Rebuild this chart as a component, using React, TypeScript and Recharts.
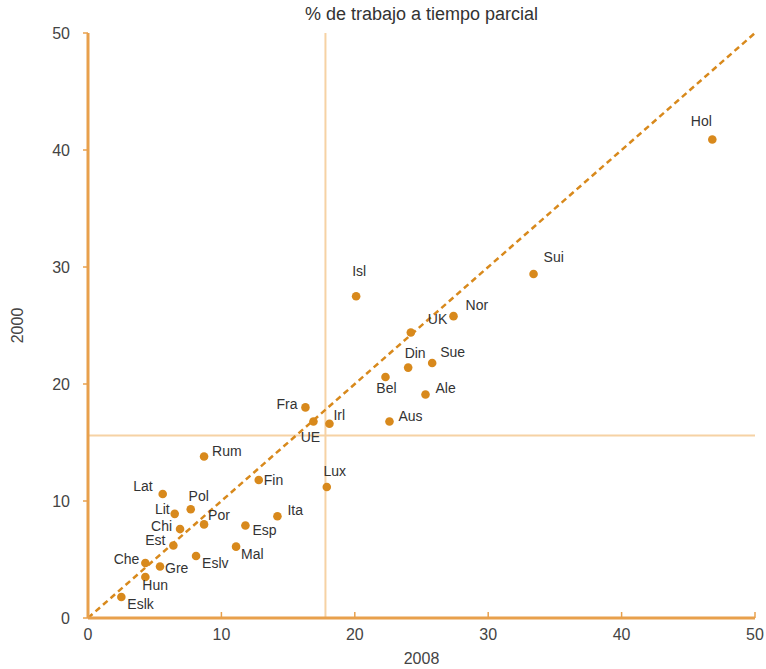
import { ScatterChart, Scatter, XAxis, YAxis, ReferenceLine, Label } from 'recharts'

// country codes, part-time work share (%) in 2008 (x) and 2000 (y)
const countries = ['Hol', 'Sui', 'Isl', 'Nor', 'UK', 'Din', 'Sue', 'Bel', 'Ale', 'Fra', 'UE', 'Irl', 'Aus', 'Rum', 'Fin', 'Lux', 'Lat', 'Pol', 'Lit', 'Por', 'Ita', 'Esp', 'Chi', 'Est', 'Mal', 'Eslv', 'Che', 'Gre', 'Hun', 'Eslk']
const share2008 = [46.8, 33.4, 20.1, 27.4, 24.2, 24.0, 25.8, 22.3, 25.3, 16.3, 16.9, 18.1, 22.6, 8.7, 12.8, 17.9, 5.6, 7.7, 6.5, 8.7, 14.2, 11.8, 6.9, 6.4, 11.1, 8.1, 4.3, 5.4, 4.3, 2.5]
const share2000 = [40.9, 29.4, 27.5, 25.8, 24.4, 21.4, 21.8, 20.6, 19.1, 18.0, 16.8, 16.6, 16.8, 13.8, 11.8, 11.2, 10.6, 9.3, 8.9, 8.0, 8.7, 7.9, 7.6, 6.2, 6.1, 5.3, 4.7, 4.4, 3.5, 1.8]
const ticks = [0, 10, 20, 30, 40, 50]
const euAverage2008 = 17.8
const euAverage2000 = 15.6

const data = countries.map((name, i) => ({ name, x: share2008[i], y: share2000[i] }))

// label offset from the dot: dx, dy, text anchor
const labelPlace: Record<string, [number, number, string]> = {
  Hol: [-11, -18, 'middle'],
  Sui: [10, -17, 'start'],
  Isl: [3, -25, 'middle'],
  Nor: [12, -11, 'start'],
  UK: [17, -14, 'start'],
  Din: [7, -15, 'middle'],
  Sue: [8, -11, 'start'],
  Bel: [1, 11, 'middle'],
  Ale: [10, -7, 'start'],
  Fra: [-8, -3, 'end'],
  UE: [-3, 16, 'middle'],
  Irl: [4, -9, 'start'],
  Aus: [9, -5, 'start'],
  Rum: [8, -6, 'start'],
  Fin: [5, 0, 'start'],
  Lux: [8, -16, 'middle'],
  Lat: [-10, -8, 'end'],
  Pol: [8, -13, 'middle'],
  Lit: [-5, -5, 'end'],
  Por: [4, -9, 'start'],
  Ita: [10, -6, 'start'],
  Esp: [7, 4, 'start'],
  Chi: [-8, -3, 'end'],
  Est: [-8, -5, 'end'],
  Mal: [5, 7, 'start'],
  Eslv: [6, 7, 'start'],
  Che: [-6, -4, 'end'],
  Gre: [5, 1, 'start'],
  Hun: [-3, 8, 'start'],
  Eslk: [6, 7, 'start'],
}

const AXIS = '#E8A04C'
const DOT = '#D8891C'
const GUIDE = '#F6D2A4'
const FONT = '"Liberation Sans", Arial, sans-serif'
const X_TICK_MARGIN = 8

const CountryDot = (props: any) => {
  const { cx, cy, payload } = props
  const [dx, dy, anchor] = labelPlace[payload.name] ?? [6, 0, 'start']
  return (
    <g>
      <circle cx={cx} cy={cy} r={4.3} fill={DOT} />
      <text
        x={cx + dx}
        y={cy + dy}
        textAnchor={anchor as any}
        dominantBaseline="central"
        fontSize={14}
        fontFamily={FONT}
        fill="#333"
      >
        {payload.name}
      </text>
    </g>
  )
}

// bottom ticks point up into the plot, so draw mark + label together
const XTick = (props: any) => {
  const { x, y, payload } = props
  const axisY = y - X_TICK_MARGIN
  return (
    <g>
      {payload.value > 0 && <line x1={x} x2={x} y1={axisY} y2={axisY - 6} stroke={AXIS} strokeWidth={1.5} />}
      <text x={x} y={axisY + 16} textAnchor="middle" dominantBaseline="central" fontSize={16} fontFamily={FONT} fill="#444">
        {payload.value}
      </text>
    </g>
  )
}

export default function App() {
  return (
    <div style={{ position: 'absolute', left: 0, top: 0, width: 766, height: 669, background: '#fff', fontFamily: FONT }}>
      <div style={{ position: 'absolute', left: 88, width: 667, top: 4, textAlign: 'center', fontSize: 18, color: '#333' }}>
        % de trabajo a tiempo parcial
      </div>
      <ScatterChart width={766} height={669} margin={{ top: 33, right: 11, left: 12, bottom: 1 }}>
        <XAxis
          type="number"
          dataKey="x"
          domain={[0, 50]}
          ticks={ticks}
          height={50}
          stroke={AXIS}
          axisLine={{ stroke: AXIS, strokeWidth: 3 }}
          tickLine={false}
          tickSize={0}
          tickMargin={X_TICK_MARGIN}
          tick={XTick}
        >
          <Label value="2008" position="insideBottom" offset={4} style={{ fill: '#444', fontSize: 16, fontFamily: FONT }} />
        </XAxis>
        <YAxis
          type="number"
          dataKey="y"
          domain={[0, 50]}
          ticks={ticks}
          width={76}
          stroke={AXIS}
          axisLine={{ stroke: AXIS, strokeWidth: 3 }}
          tickLine={{ stroke: AXIS, strokeWidth: 1.5 }}
          tickSize={5}
          tickMargin={13}
          tick={{ fill: '#444', fontSize: 16, fontFamily: FONT }}
        >
          <Label value="2000" angle={-90} position="insideLeft" offset={5} style={{ fill: '#444', fontSize: 16, fontFamily: FONT, textAnchor: 'middle' }} />
        </YAxis>
        <ReferenceLine x={euAverage2008} stroke={GUIDE} strokeWidth={2} />
        <ReferenceLine y={euAverage2000} stroke={GUIDE} strokeWidth={2} />
        <ReferenceLine
          segment={[{ x: 0, y: 0 }, { x: 50, y: 50 }]}
          stroke={DOT}
          strokeWidth={2.5}
          strokeDasharray="6 4"
        />
        <Scatter data={data} shape={CountryDot} isAnimationActive={false} />
      </ScatterChart>
    </div>
  )
}
